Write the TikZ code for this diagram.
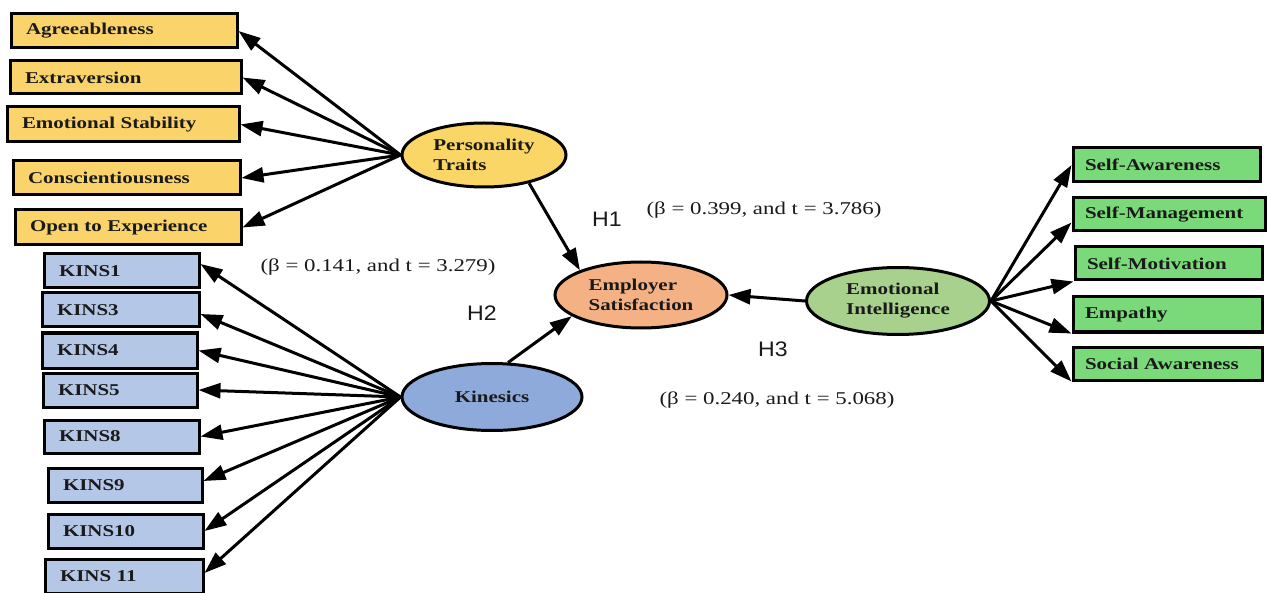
\documentclass[tikz,border=0pt]{standalone}
\usepackage{fontspec}
\usetikzlibrary{shapes.geometric,arrows.meta}
\newfontfamily\tnr[FakeStretch=1.27]{Liberation Serif}
\newfontfamily\ars[FakeStretch=1.1]{Liberation Sans}
\newcommand\boxf{\tnr\bfseries\fontsize{16.5}{20}\selectfont}
\newcommand\coeff{\tnr\fontsize{18}{20}\selectfont}
\newcommand\hypf{\ars\fontsize{21}{24}\selectfont}
\definecolor{ybfill}{HTML}{FAD46B}
\definecolor{yefill}{HTML}{F9D665}
\definecolor{bbfill}{HTML}{B4C7E7}
\definecolor{befill}{HTML}{8EAADB}
\definecolor{oefill}{HTML}{F4B183}
\definecolor{gefill}{HTML}{A9D18E}
\definecolor{gbfill}{HTML}{7ADA7A}
\definecolor{txt}{HTML}{1A1A1A}
\begin{document}
\begin{tikzpicture}[x=1pt,y=-1pt,
  ybox/.style={draw=black, line width=3pt, fill=ybfill, inner xsep=15pt, inner ysep=0pt,
     minimum height=34pt, align=left, font=\boxf, text=txt},
  bbox/.style={ybox, fill=bbfill},
  gbox/.style={ybox, fill=gbfill, inner xsep=12pt},
  lat/.style={ellipse, draw=black, line width=3pt, inner sep=0pt, font=\boxf, text=txt, align=left},
  arr/.style={line width=3pt, -{Triangle[length=22pt,width=15pt]}},
  coef/.style={font=\coeff, text=txt},
  hyp/.style={font=\hypf, text=txt}]
\useasboundingbox (0,0) rectangle (1268,593);
\fill[white] (0,0) rectangle (1268,593);

% yellow indicator boxes
\node[ybox, text width=196pt] (agr) at (124,31) {Agreeableness};
\node[ybox, text width=201pt, minimum height=33pt] (ext) at (125.5,77.5) {Extraversion};
\node[ybox, text width=202pt, minimum height=35pt] (ems) at (123,124.5) {Emotional Stability};
\node[ybox, text width=197pt] (con) at (126.5,178) {Conscientiousness};
\node[ybox, text width=196pt, minimum height=35pt] (ope) at (128,227.5) {Open to Experience};

% blue indicator boxes
\node[bbox, text width=125pt] (k1) at (121.5,271) {KINS1};
\node[bbox, text width=127pt] (k3) at (120.5,310) {KINS3};
\node[bbox, text width=125pt, minimum height=35pt] (k4) at (119.5,350.5) {KINS4};
\node[bbox, text width=124pt] (k5) at (120,390) {KINS5};
\node[bbox, text width=125pt, minimum height=33pt] (k8) at (121.5,436.5) {KINS8};
\node[bbox, text width=124pt] (k9) at (125,485) {KINS9};
\node[bbox, text width=125pt] (k10) at (125.5,531) {KINS10};
\node[bbox, text width=128pt] (k11) at (124,576) {KINS 11};

% green indicator boxes
\node[gbox, text width=163pt] (sa) at (1166.5,165) {Self-Awareness};
\node[gbox, text width=168pt, minimum height=33pt] (sm) at (1169,214.5) {Self-Management};
\node[gbox, text width=163pt, minimum height=33pt] (smo) at (1168.5,263.5) {Self-Motivation};
\node[gbox, text width=165pt, minimum height=35pt] (emp) at (1167.5,314.5) {Empathy};
\node[gbox, text width=165pt, minimum height=33pt] (soc) at (1167.5,363.5) {Social Awareness};

% latent variables
\node[lat, fill=yefill, minimum width=164pt, minimum height=64pt] (pt) at (484,155) {Personality\\Traits};
\node[lat, fill=oefill, minimum width=172pt, minimum height=66pt] (es) at (641,295) {Employer\\Satisfaction};
\node[lat, fill=befill, minimum width=180pt, minimum height=67pt] (kin) at (492,397) {Kinesics};
\node[lat, fill=gefill, minimum width=183pt, minimum height=67pt] (ei) at (898,301) {Emotional\\Intelligence};

% outer loadings
\foreach \b in {agr,ext,ems,con,ope} \draw[arr] (pt.west) -- (\b.east);
\draw[arr] (kin.west) -- ([yshift=7pt]k1.east);
\draw[arr] (kin.west) -- ([yshift=-4pt]k3.east);
\foreach \b in {k4,k5,k8,k10} \draw[arr] (kin.west) -- (\b.east);
\draw[arr] (kin.west) -- ([yshift=4pt]k9.east);
\draw[arr] (kin.west) -- ([yshift=3pt]k11.east);
\draw[arr] (ei.east) -- (sa.west);
\draw[arr] (ei.east) -- ([yshift=-8pt]sm.west);
\draw[arr] (ei.east) -- (smo.south west);
\draw[arr] (ei.east) -- (emp.south west);
\draw[arr] (ei.east) -- (soc.south west);

% structural paths
\draw[arr] (pt.-32) -- (es.158);
\draw[arr] (kin.65) -- (es.197);
\draw[arr] (ei.west) -- (es.east);

% labels
\node[coef] (c1) at (764,210) {(β = 0.399, and t = 3.786)};
\node[hyp] (h1) at (607,219) {H1};
\node[coef] (c2) at (378,267) {(β = 0.141, and t = 3.279)};
\node[hyp] (h2) at (482,313) {H2};
\node[hyp] (h3) at (773,349) {H3};
\node[coef] (c3) at (777,400) {(β = 0.240, and t = 5.068)};
\end{tikzpicture}
\end{document}
